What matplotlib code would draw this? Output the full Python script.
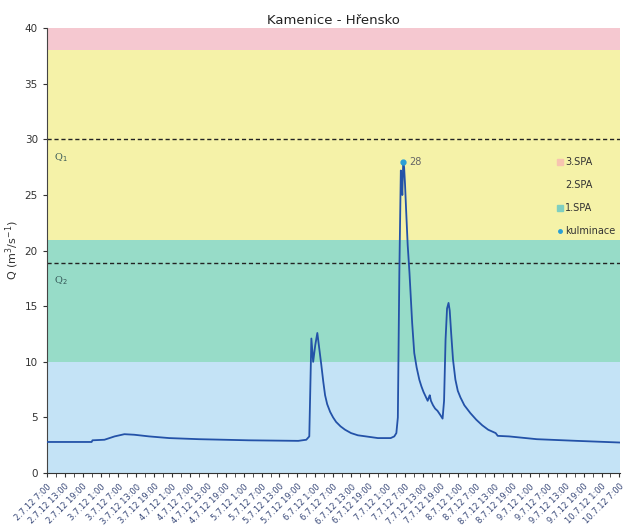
import matplotlib
matplotlib.use("Agg")
import matplotlib.pyplot as plt
from matplotlib.lines import Line2D
import numpy as np

# hours since 2.7.12 7:00 and discharge Q (m3/s)
hours = [0, 15, 15.3, 19.3, 22.7, 26, 29.3, 34.3, 41, 51, 67.7, 84.3, 87, 88,
         88.7, 89.3, 90, 90.7, 91.3, 92, 92.7, 93.3, 94, 95, 96, 97, 98.5, 100,
         102, 104.3, 107, 111, 115.3, 116.5, 117.2,
         117.7, 118.2, 118.7, 119.0, 119.2, 119.5, 119.8, 120.1, 120.5, 121,
         121.6, 122, 122.5, 123.2, 124, 124.9, 125.6, 126.3, 127, 127.7, 128.1,
         128.4, 128.8, 129.5, 130.2, 131, 132, 132.7, 133.2, 133.7, 134.2,
         134.7, 135.1, 135.6, 136.2, 137, 137.8, 138.7, 140, 142, 144, 146,
         148, 150.5, 151.2, 155, 164.3, 177.7, 192.2]
flow = [2.8, 2.8, 2.95, 3.0, 3.3, 3.5, 3.45, 3.3, 3.15, 3.05, 2.95, 2.9, 3.0, 3.3,
        12.1, 10.0, 11.5, 12.6, 11.3, 9.8, 8.2, 7.0, 6.2, 5.5, 5.0, 4.6, 4.2, 3.9,
        3.6, 3.4, 3.3, 3.15, 3.15, 3.3, 3.6,
        5.0, 18.0, 27.2, 26.0, 25.0, 28.0, 27.5, 26.0, 23.5, 20.5,
        18.0, 16.0, 13.5, 10.8, 9.5, 8.4, 7.8, 7.3, 6.9, 6.5, 6.8,
        7.0, 6.5, 6.1, 5.8, 5.6, 5.2, 4.9, 6.5, 12.0, 14.8,
        15.3, 14.6, 12.5, 10.2, 8.4, 7.4, 6.8, 6.1, 5.4, 4.8, 4.3,
        3.9, 3.6, 3.35, 3.3, 3.05, 2.9, 2.75]

peak_hour = 119.5
peak_value = 28

# flood activity bands (SPA) and thresholds
band_names = ["1.SPA", "2.SPA", "3.SPA"]
band_limits = [(10, 21), (21, 38), (38, 40)]
band_colors = ["#97dcc8", "#f5f2a8", "#f5c8d0"]
base_band = (0, 10)
base_color = "#c4e3f6"
q_lines = [30, 18.9]
q_labels = ["1", "2"]

tick_labels = [
    "2.7.12 7:00", "2.7.12 13:00", "2.7.12 19:00",
    "3.7.12 1:00", "3.7.12 7:00", "3.7.12 13:00", "3.7.12 19:00",
    "4.7.12 1:00", "4.7.12 7:00", "4.7.12 13:00", "4.7.12 19:00",
    "5.7.12 1:00", "5.7.12 7:00", "5.7.12 13:00", "5.7.12 19:00",
    "6.7.12 1:00", "6.7.12 7:00", "6.7.12 13:00", "6.7.12 19:00",
    "7.7.12 1:00", "7.7.12 7:00", "7.7.12 13:00", "7.7.12 19:00",
    "8.7.12 1:00", "8.7.12 7:00", "8.7.12 13:00", "8.7.12 19:00",
    "9.7.12 1:00", "9.7.12 7:00", "9.7.12 13:00", "9.7.12 19:00",
    "10.7.12 1:00", "10.7.12 7:00",
]
tick_step = 6

fig = plt.figure(figsize=(6.25, 5.31), dpi=100)
ax = fig.add_axes([0.075, 0.109, 0.917, 0.838])

ax.axhspan(base_band[0], base_band[1], color=base_color, lw=0, zorder=0)
for (lo, hi), c in zip(band_limits, band_colors):
    ax.axhspan(lo, hi, color=c, lw=0, zorder=0)

for q in q_lines:
    ax.axhline(q, color="#222222", ls=(0, (3, 2)), lw=1.0, zorder=2)
for q, lab in zip(q_lines, q_labels):
    ax.text(2.5, q - 1.6, "Q$_{%s}$" % lab, fontsize=7, color="#335555",
            va="center", ha="left", family="DejaVu Serif")

ax.plot(hours, flow, color="#2352a8", lw=1.3, zorder=3)
ax.plot([peak_hour], [peak_value], "o", color="#2a9fd6", ms=3.5, zorder=4)
ax.annotate(str(peak_value), (peak_hour, peak_value), xytext=(4, 0),
            textcoords="offset points", fontsize=7, color="#666666", va="center")

ax.set_xlim(0, 192.2)
ax.set_ylim(0, 40)
ax.set_yticks(np.arange(0, 41, 5))
ax.set_xticks(np.arange(len(tick_labels)) * tick_step)
ax.set_xticks(np.arange(0, 193, 3), minor=True)
ax.set_xticklabels(tick_labels, rotation=45, ha="right", rotation_mode="anchor",
                   fontsize=6, color="#3a4a7a")
ax.tick_params(axis="y", labelsize=7.5, colors="#333333", length=3)
ax.tick_params(axis="x", which="both", length=3, color="#333333")
for s in ["top", "right"]:
    ax.spines[s].set_visible(False)
ax.spines["left"].set_color("#444444")
ax.spines["bottom"].set_color("#333333")

ax.set_ylabel("Q (m$^3$/s$^{-1}$)", fontsize=8, color="#333333")
ax.yaxis.set_label_coords(-0.045, 0.5)
ax.set_title("Kamenice - Hřensko", fontsize=9.5, color="#222222", pad=3)

handles = [
    Line2D([], [], ls="none", marker="s", ms=4, color="#f7c4b0"),
    Line2D([], [], ls="none", marker="s", ms=4, color="#f5f2a8"),
    Line2D([], [], ls="none", marker="s", ms=4, color="#7fcfc0"),
    Line2D([], [], ls="none", marker="o", ms=2.5, color="#2a9fd6"),
]
leg = ax.legend(handles, ["3.SPA", "2.SPA", "1.SPA", "kulminace"], loc="upper left",
                bbox_to_anchor=(0.875, 0.73), frameon=False, fontsize=7,
                handlelength=0.6, handletextpad=0.2, labelspacing=1.35)
for t in leg.get_texts():
    t.set_color("#333333")

fig.savefig("out.png", dpi=100)
